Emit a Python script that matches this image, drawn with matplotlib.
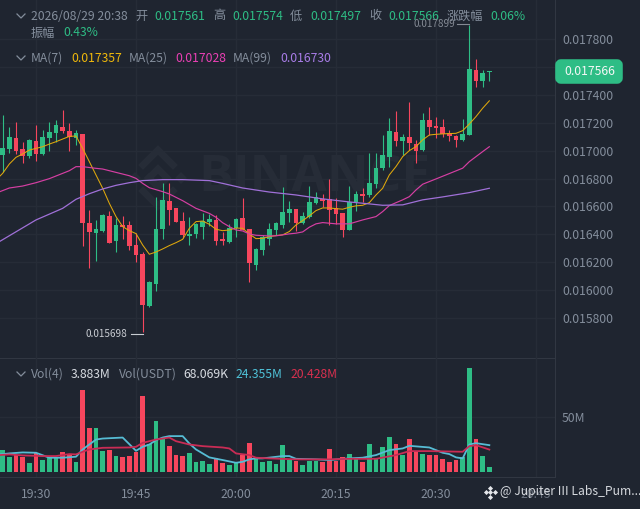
import matplotlib
matplotlib.use("Agg")
import matplotlib.pyplot as plt
from matplotlib.lines import Line2D
from matplotlib.patches import FancyBboxPatch
from matplotlib.transforms import Affine2D

plt.rcParams['font.family'] = ['Noto Sans CJK SC', 'DejaVu Sans']

opens = [16971,17011,17093,17011,16961,17071,16973,17090,17129,17172,17140,17088,17119,16483,16409,16426,16531,16352,16467,16467,
         16321,16259,15889,16042,16436,16641,16589,16493,16390,16402,16452,16491,16503,16369,16343,16445,16517,16436,16180,16288,
         16364,16431,16467,16551,16580,16479,16527,16623,16654,16651,16587,16551,16432,16630,16690,16682,16759,16876,16957,17134,
         17072,17098,17048,17003,17220,17175,17167,17129,17108,17074,17110,17576,17499,17561]
closes = [17016,17095,16997,16961,17076,16976,17100,17131,17183,17138,17100,17129,16479,16417,16436,16538,16338,16469,16455,16316,
          16252,15893,16061,16438,16648,16577,16491,16395,16400,16472,16495,16507,16350,16350,16445,16512,16431,16192,16292,16383,
          16438,16483,16558,16580,16479,16532,16635,16670,16642,16575,16546,16432,16630,16687,16678,16766,16876,16967,17141,17072,
          17096,17055,17000,17220,17170,17160,17120,17108,17074,17120,17585,17502,17559,17566]
highs = [17255,17167,17203,17059,17081,17183,17148,17207,17219,17291,17200,17148,17119,16574,16503,16543,16569,16515,16531,16495,
         16412,16273,16065,16665,16765,16765,16589,16562,16526,16479,16550,16543,16538,16419,16474,16517,16658,16436,16300,16395,
         16479,16491,16737,16639,16580,16558,16749,16706,16687,16797,16659,16551,16749,16711,16730,16981,16981,17112,17232,17287,
         17120,17351,17077,17268,17311,17244,17225,17148,17112,17227,17899,17655,17578,17574]
lows = [16849,16980,16976,16914,16949,16928,16966,17000,17064,17129,17000,17040,16319,16156,16209,16419,16338,16276,16366,16288,
        16199,15698,15879,15996,16364,16467,16491,16371,16323,16376,16369,16460,16323,16323,16340,16383,16431,16061,16144,16252,
        16323,16395,16448,16491,16427,16475,16515,16618,16594,16467,16475,16384,16432,16570,16630,16670,16730,16862,16885,17036,
        16969,17005,16909,17000,17112,17089,17096,17072,17029,17072,17110,17459,17459,17497]
volumes = [19.9,13.6,15.4,13.3,8.4,16.9,10.9,13,13,17.8,16,8.7,74.7,39.8,39.8,19.3,19.9,14.8,13.3,14.2,
           18.4,68.7,25.9,46.1,30.4,23.2,15.7,14.2,17.2,9.3,9.9,6.9,12.4,8.4,6,9.3,15.4,26.8,13.9,9,
           9.9,7.2,24.4,10.9,9.9,6,10.2,10.2,9.3,20.8,9.9,13.3,16,12,9.3,25.6,12,22.6,31.6,25.9,
           15.4,30.1,17.8,16.6,15.4,15.4,11.8,9.3,10.5,13.6,94.6,29.8,14.5,4.8]

ma7_idx = [-0.4,0,1,2,3,4,5,6,7,8,9,10,11,12,13,14,15,16,17,18,19,20,21,22,23,24,25,26,27,28,29,30,31,32,33,34,35,36,37,38,39,40,41,
           42,43,44,45,46,47,48,49,50,51,52,53,54,55,56,57,58,59,60,61,62,63,64,65,66,67,68,69,70,71,72,73]
ma7 = [16818,16837,16904,16952,16976,17004,17016,17028,17047,17064,17083,17102,17105,17016,16921,16825,16730,16622,16527,16455,16426,
       16405,16323,16257,16273,16295,16319,16340,16364,16443,16491,16495,16472,16436,16426,16431,16445,16443,16402,16369,16371,16383,16391,
       16396,16420,16467,16498,16532,16570,16589,16589,16584,16580,16594,16604,16608,16627,16682,16730,16826,16886,16957,17000,17029,17077,
       17112,17117,17120,17122,17124,17143,17191,17244,17304,17357]
ma25_idx = [-0.4,1,3,5,7,9,10,11,12,14,15,17,19,20,21,22,24,25,27,29,31,32,33,34,35,36,37,38,40,41,43,44,45,46,47,48,50,52,54,55,56,57,58,60,61,62,63,65,69,70,71,72,73]
ma25 = [16706,16732,16746,16770,16799,16837,16856,16885,16885,16873,16868,16844,16820,16801,16765,16734,16706,16689,16641,16586,16550,16522,16483,16455,16431,16424,16402,16393,16388,
        16389,16403,16408,16417,16451,16475,16484,16475,16475,16503,16515,16527,16563,16606,16647,16670,16718,16759,16797,16874,16921,16957,16993,17028]
ma99_idx = [-0.4,5,9,11,13,15,17,19,21,24,27,31,33,36,40,44,48,52,55,57,60,63,66,70,73]
ma99 = [16350,16503,16586,16651,16691,16725,16751,16770,16785,16792,16792,16785,16765,16732,16703,16682,16654,16632,16618,16608,16611,16647,16668,16699,16730]

volc_idx = [-0.4,1,3,5,7,9,11,12,13,14,15,18,19,20,21,22,23,24,25,27,28,29,30,31,33,35,36,37,38,39,42,43,44,47,49,52,54,56,58,60,61,64,66,67,68,69,70,71,73]
vol_cyan = [16,16.9,17.8,17.5,13,13,13.9,20.5,25,29.5,30.4,31.3,25.3,19.3,22.9,25,28.9,31.3,32.6,32.6,25.9,20.5,16.9,13.3,10.9,8.4,9.3,11.5,12.4,12.4,14.5,14.5,12,11.5,10.9,12.4,13,15.4,19.9,21.4,23.8,22.3,17.5,16.3,13.3,12.4,25,26.2,24.4]
volr_idx = [-0.4,1,3,6,8,10,11,12,13,15,19,20,21,23,25,26,28,30,33,34,35,37,38,40,44,49,52,56,59,61,64,69,70,71,73]
vol_red = [15.4,16,15.1,14.5,14.5,16.3,16,18.4,20.5,22,22.3,22.9,26.5,29.5,31.3,28,25,23.5,22.3,21.4,16.9,15.4,13,12.4,11.5,11.5,12,12,15.4,19,19,18.4,23.5,24.4,20.4]

price_ticks = [15800,16000,16200,16400,16600,16800,17000,17200,17400,17600,17800]
time_ticks = [5,20,35,50,65,80]
time_labels = ['19:30','19:45','20:00','20:15','20:30','20:45']
header1 = [(31,'2026/08/29 20:38','g'),(135,'开','g'),(154,'0.017561','u'),(213,'高','g'),(232,'0.017574','u'),(290,'低','g'),
           (310,'0.017497','u'),(369,'收','g'),(388,'0.017566','u'),(447,'涨跌幅','g'),(490,'0.06%','u')]
header2 = [(31,'振幅','g'),(63,'0.43%','u')]
header3 = [(31,'MA(7)','g'),(71,'0.017357','y'),(129,'MA(25)','g'),(175,'0.017028','m'),(233,'MA(99)','g'),(280,'0.016730','p')]
header4 = [(31,'Vol(4)','g'),(71,'3.883M','w'),(119,'Vol(USDT)','g'),(183,'68.069K','w'),(235.5,'24.355M','c'),(290,'20.428M','r')]

BG = '#1f2530'; GRID = '#262c37'; SEP = '#313742'
UP = '#2ebd85'; DOWN = '#f6465d'; GRAY = '#848e9c'; MARK = '#262c37'
TC = {'g':GRAY,'u':UP,'y':'#f0b90b','m':'#eb40b5','p':'#a97de8','w':'#d8dce2','c':'#4fc3d9','r':'#d9304f'}
FS = 8.75

W, H = 640, 509
fig = plt.figure(figsize=(W/100, H/100), dpi=100, facecolor=BG)
PX = Affine2D().scale(1, -1).translate(0, H)

def axes_px(x0, y0, x1, y1):
    return fig.add_axes([x0/W, 1-y1/H, (x1-x0)/W, (y1-y0)/H], facecolor='none')

XLIM = (-0.4, 82.85)
ax = axes_px(0, 0, 555, 358)
ax.set_xlim(*XLIM); ax.set_ylim(15513, 18080)
vx = axes_px(0, 358, 555, 477)
vx.set_xlim(*XLIM); vx.set_ylim(-4.5, 103.5)

for a in (ax, vx):
    a.set_axisbelow(True)
    a.grid(True, color=GRID, lw=1)
    a.yaxis.tick_right()
    a.set_xticks(time_ticks)
    for s in a.spines.values():
        s.set_visible(False)
    a.spines['right'].set_visible(True); a.spines['right'].set_color(SEP)
    a.spines['bottom'].set_visible(True); a.spines['bottom'].set_color(SEP)
    a.tick_params(length=0, labelsize=FS, labelcolor=GRAY, pad=5)

ax.set_yticks(price_ticks)
ax.set_yticklabels([f'{p/1e6:.6f}' for p in price_ticks])
ax.tick_params(axis='x', labelbottom=False)
vx.set_yticks([50]); vx.set_yticklabels(['50M'])
vx.set_xticks(time_ticks); vx.set_xticklabels(time_labels)
vx.tick_params(axis='x', pad=8)
vx.get_xticklabels()[-1].set_color('#6b7380')

# watermark under the axes
fig.text(198, 178, 'BINANCE', transform=PX, family='Open Sans', weight='bold', fontsize=37, color=MARK, va='center', ha='left', zorder=-1)
for seg in ([(143,165),(158,150),(173,165)], [(149,178),(158,169),(167,178),(158,187),(149,178)],
            [(143,191),(158,206),(173,191)]):
    fig.add_artist(Line2D([p[0] for p in seg], [p[1] for p in seg], transform=PX, color=MARK, lw=5, zorder=-1, solid_joinstyle='miter'))
fig.add_artist(Line2D([135, 181], [178, 178], transform=PX, color=MARK, lw=0, marker='D', ms=6, mew=0, zorder=-1))

# candles
xs = list(range(len(opens)))
colors = [UP if c >= o else DOWN for o, c in zip(opens, closes)]
ax.vlines(xs, lows, highs, colors=colors, lw=0.8, zorder=3)
ax.bar(xs, [max(abs(c-o), 8) for o, c in zip(opens, closes)], bottom=[min(o, c) for o, c in zip(opens, closes)],
       width=0.72, color=colors, lw=0, zorder=4)
ax.plot(ma7_idx, ma7, color='#e0a80c', lw=0.75, zorder=5)
ax.plot(ma25_idx, ma25, color='#d63fa3', lw=0.85, zorder=5)
ax.plot(ma99_idx, ma99, color='#a070d8', lw=0.9, zorder=5)

# volume
vx.bar(xs, volumes, width=0.7, color=colors, lw=0, zorder=3)
vx.plot(volc_idx, vol_cyan, color='#56bcd4', lw=1.3, zorder=5)
vx.plot(volr_idx, vol_red, color='#c92c55', lw=1.3, zorder=5)

def txt(x, y, s, color, size=FS, ha='left', **k):
    fig.text(x, y, s, transform=PX, color=color, fontsize=size, ha=ha, va='center', **k)

def chevron(x, y):
    fig.add_artist(Line2D([x, x+4, x+8], [y-2, y+2, y-2], transform=PX, color=GRAY, lw=0.9))

for row, y in ((header1, 16), (header2, 33), (header3, 58), (header4, 374)):
    for x, s, c in row:
        txt(x, y, s, TC[c])
for y in (16, 58, 374):
    chevron(17, y)

txt(86, 334, '0.015698', '#c8ccd2', 7.2)
fig.add_artist(Line2D([131, 143], [334, 334], transform=PX, color='#c8ccd2', lw=0.8))
txt(413, 24, '0.017899', '#848a94', 7.2)
fig.add_artist(Line2D([457, 469], [24, 24], transform=PX, color='#848a94', lw=0.8))

# current price tag
fig.add_artist(FancyBboxPatch((558, 62), 62, 19, boxstyle='round,pad=0,rounding_size=3', transform=PX,
                              fc=UP, ec=UP, lw=4, joinstyle='round', mutation_aspect=1))
txt(564, 71.5, '0.017566', '#f4f7f6')

# bottom signature
fig.add_artist(Line2D([485.5, 490, 494.5, 490, 490], [492, 487.5, 492, 496.5, 492], transform=PX,
                      color='#e4e6ea', lw=0, marker='D', ms=2.6, mew=0))
txt(500, 492, '@ Jupiter III Labs_Pum...', '#d5d8dd')

fig.savefig('out.png', dpi=100, facecolor=BG)
